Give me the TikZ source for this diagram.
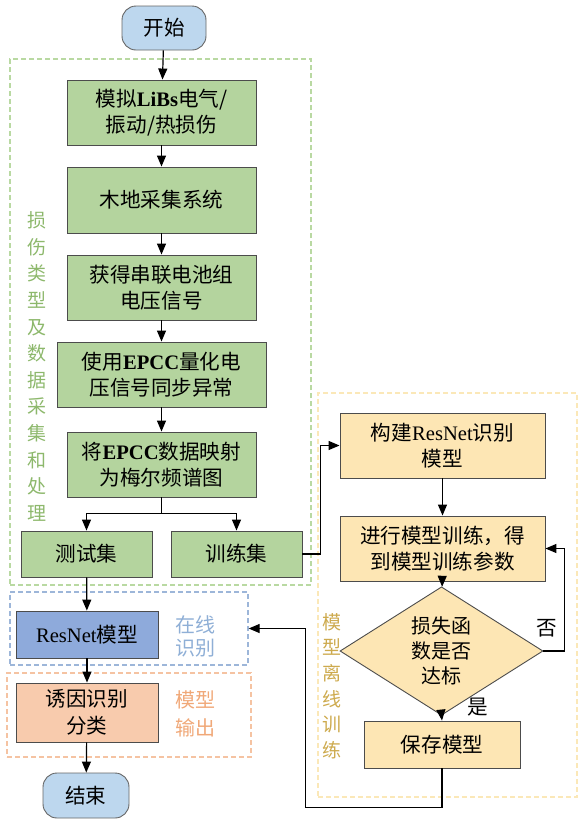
\documentclass[tikz,border=0pt]{standalone}
\usepackage{fontspec}
\setmainfont{Liberation Serif}
\newfontfamily\cjk{Noto Sans CJK SC}
\usepackage{tikz}
\usetikzlibrary{arrows.meta, positioning, shapes.geometric}
\definecolor{greenbox}{HTML}{B4D49E}
\definecolor{bluestart}{HTML}{BDD7EE}
\definecolor{bluebox}{HTML}{8EAADB}
\definecolor{orangebox}{HTML}{F8CBAD}
\definecolor{yellowbox}{HTML}{FDE6B4}
\definecolor{greenline}{HTML}{B9D9A2}
\definecolor{blueline}{HTML}{9DB6D9}
\definecolor{orangeline}{HTML}{F5C3A2}
\definecolor{yellowline}{HTML}{FBE8B8}
\definecolor{greentext}{HTML}{8DB86C}
\definecolor{bluetext}{HTML}{8FAFD6}
\definecolor{orangetext}{HTML}{F0A878}
\definecolor{yellowtext}{HTML}{CDAA4E}

\begin{document}
\begin{tikzpicture}[x=1pt,y=-1pt,
	every node/.style={font=\cjk\fontsize{20.6}{26.5}\selectfont},
	stepbox/.style={draw=black!70, line width=0.9pt, align=center, inner sep=0pt},
	termbox/.style={stepbox, rounded corners=14pt, fill=bluestart, draw=black!60},
	groupbox/.style={draw=#1, dash pattern=on 5pt off 3pt, line width=1.3pt, inner sep=0pt},
	arr/.style={-{Triangle[length=11pt,width=9pt]}, line width=1.2pt},
	line/.style={line width=1.2pt}]
	\useasboundingbox (0,0) rectangle (581,820);
	% groups
	\node[groupbox=greenline, minimum width=301pt, minimum height=526pt] (collect) at (160.5,322) {};
	\node[groupbox=blueline, minimum width=238pt, minimum height=73pt] (online) at (129,628.5) {};
	\node[groupbox=orangeline, minimum width=244pt, minimum height=84pt] (output) at (129,715) {};
	\node[groupbox=yellowline, minimum width=259pt, minimum height=404pt] (offline) at (447.5,595) {};
	\node[text=greentext, align=center, font=\cjk\fontsize{19}{26.6}\selectfont] (collectlbl) at (37,366.5) {损\\伤\\类\\型\\及\\数\\据\\采\\集\\和\\处\\理};
	\node[text=bluetext, align=center, font=\cjk\fontsize{20}{23}\selectfont] (onlinelbl) at (195,636.5) {在线\\识别};
	\node[text=orangetext, align=center, font=\cjk\fontsize{20}{28}\selectfont] (outputlbl) at (195,714) {模型\\输出};
	\node[text=yellowtext, align=center, font=\cjk\fontsize{19}{25.6}\selectfont] (offlinelbl) at (332,686) {模\\型\\离\\线\\训\\练};
	% left column
	\node[termbox, minimum width=84pt, minimum height=44pt] (start) at (164,28) {开始};
	\node[stepbox, fill=greenbox, minimum width=189pt, minimum height=65pt] (sim) at (161.5,112.5) {模拟{\rmfamily\bfseries LiBs}电气/\\振动/热损伤};
	\node[stepbox, fill=greenbox, minimum width=189pt, minimum height=66pt] (acq) at (161.5,200) {木地采集系统};
	\node[stepbox, fill=greenbox, minimum width=189pt, minimum height=65pt] (volt) at (161.5,287.5) {获得串联电池组\\电压信号};
	\node[stepbox, fill=greenbox, minimum width=209pt, minimum height=65pt] (epcc) at (161.5,374.5) {使用{\rmfamily\bfseries EPCC}量化电\\压信号同步异常};
	\node[stepbox, fill=greenbox, minimum width=189pt, minimum height=65pt] (mel) at (161.5,464.5) {将{\rmfamily\bfseries EPCC}数据映射\\为梅尔频谱图};
	\node[stepbox, fill=greenbox, minimum width=131pt, minimum height=46pt] (testset) at (86.5,554) {测试集};
	\node[stepbox, fill=greenbox, minimum width=131pt, minimum height=46pt] (trainset) at (236.5,554) {训练集};
	\node[stepbox, fill=bluebox, minimum width=142pt, minimum height=47pt] (resnet) at (87,634.5) {{\rmfamily ResNet}模型};
	\node[stepbox, fill=orangebox, minimum width=142pt, minimum height=59pt] (cause) at (87,712.5) {诱因识别\\分类};
	\node[termbox, minimum width=86pt, minimum height=45pt] (end) at (86,795.5) {结束};
	% right column
	\node[stepbox, fill=yellowbox, minimum width=205pt, minimum height=65pt] (build) at (442.5,445.5) {构建{\rmfamily ResNet}识别\\模型};
	\node[stepbox, fill=yellowbox, minimum width=205pt, minimum height=65pt] (train) at (442.5,548.5) {进行模型训练，得\\到模型训练参数};
	\node[stepbox, diamond, fill=yellowbox, minimum width=203pt, minimum height=98pt, font=\cjk\fontsize{20}{25}\selectfont] (loss) at (441.5,651) {损失函\\数是否\\达标};
	\node[stepbox, fill=yellowbox, minimum width=156pt, minimum height=47pt] (save) at (442,744.5) {保存模型};
	% connectors
	\draw[arr] (start) -- (sim);
	\draw[arr] (sim) -- (acq);
	\draw[arr] (acq) -- (volt);
	\draw[arr] (volt) -- (epcc);
	\draw[arr] (epcc) -- (mel);
	\draw[line] (mel.south) -- ++(0,16) coordinate (split);
	\draw[arr] (split) -| (testset);
	\draw[arr] (split) -| (trainset);
	\draw[arr] (testset) -- (resnet);
	\draw[arr] (resnet) -- (cause);
	\draw[arr] (cause) -- (end);
	\draw[arr] (trainset.east) -- ++(18,0) |- (build.west);
	\draw[arr] (build) -- (train);
	\draw[arr] (train) -- (loss);
	\draw[arr] (loss.east) -- ++(21,0) coordinate (noturn) |- (train.east);
	\node (no) at (547,628) {否};
	\draw[arr] (loss.south) -- (save.north);
	\node (yes) at (478,707) {是};
	\draw[arr] (save.south) -- ++(0,39) -| ([xshift=57pt]online.east) -- (online.east);
\end{tikzpicture}
\end{document}
